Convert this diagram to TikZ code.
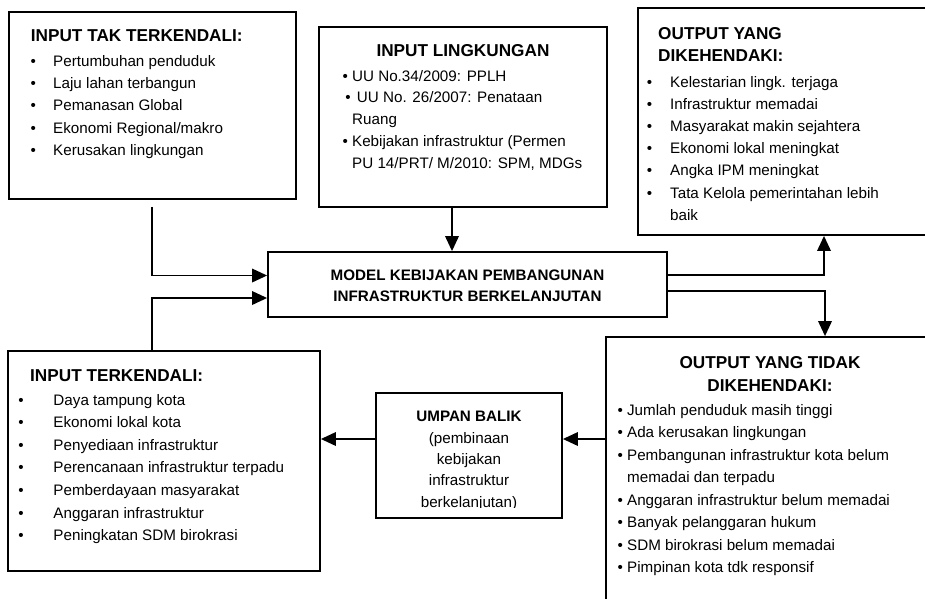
\documentclass[tikz,border=0pt]{standalone}
\usepackage{fontspec}
\setmainfont{Liberation Sans}
\usetikzlibrary{arrows.meta,fit}
\newcommand\tabbul[1]{\makebox[#1][l]{•}}
\begin{document}
\begin{tikzpicture}[x=1pt,y=-1pt,
  box/.style={draw,line width=1.8pt,inner sep=0pt},
  hd/.style={font=\fontsize{17.2}{20}\selectfont\bfseries,inner sep=0pt,anchor=base west},
  hdc/.style={hd,anchor=base},
  txt/.style={font=\fontsize{15.2}{18}\selectfont,inner sep=0pt,anchor=base west},
  txtc/.style={txt,anchor=base},
  bld/.style={font=\fontsize{15.2}{18}\selectfont\bfseries,inner sep=0pt,anchor=base},
  arr/.style={line width=1.8pt,-{Triangle[length=15pt,width=13.5pt]}},
]
\useasboundingbox (0,0) rectangle (925,598);
\clip (0,0) rectangle (925,598);

% boxes
\node[box,fit={(9,12)(296,199)}] (b1) {};
\node[box,fit={(319,27)(607,207)}] (b2) {};
\node[box,fit={(638,8)(935,235)}] (out1) {};
\node[box,fit={(268,252)(667,317)}] (model) {};
\node[box,fit={(8,351)(320,571)}] (b4) {};
\node[box,fit={(376,393)(562,518)}] (umpan) {};
\node[box,fit={(606,337)(935,612)}] (out2) {};

% input tak terkendali
\node[hd] (b1h) at (30.7,41.5) {INPUT TAK TERKENDALI:};
\foreach \t [count=\n] in {{Pertumbuhan penduduk},{Laju lahan terbangun},{Pemanasan Global},{Ekonomi Regional/makro},{Kerusakan lingkungan}}
  \node[txt] (b1i\n) at (30.4,{66.7+22.1*(\n-1)}) {\tabbul{22.6pt}\t};

% input lingkungan
\node[hdc] (b2h) at (463,56.7) {INPUT LINGKUNGAN};
\node[txt] (b2i1) at (342.4,81) {• UU No.34/2009: PPLH};
\node[txt] (b2i2) at (345.2,102.8) {•\hspace{2pt} UU No. 26/2007: Penataan};
\node[txt] (b2i3) at (352,124.6) {Ruang};
\node[txt] (b2i4) at (342.4,146.4) {• Kebijakan infrastruktur (Permen};
\node[txt] (b2i5) at (352,168.2) {PU 14/PRT/ M/2010: SPM, MDGs};

% output yang dikehendaki
\node[hd] (o1h1) at (658,39.5) {OUTPUT YANG};
\node[hd] (o1h2) at (658,61) {DIKEHENDAKI:};
\foreach \t [count=\n] in {{Kelestarian lingk. terjaga},{Infrastruktur memadai},{Masyarakat makin sejahtera},{Ekonomi lokal meningkat},{Angka IPM meningkat},{Tata Kelola pemerintahan lebih}}
  \node[txt] (o1i\n) at (646.7,{87+22.2*(\n-1)}) {\tabbul{23.3pt}\t};
\node[txt] (o1i7) at (670,220.2) {baik};

% model
\node[bld] (m1) at (467.5,280.7) {MODEL KEBIJAKAN PEMBANGUNAN};
\node[bld] (m2) at (467.5,301.7) {INFRASTRUKTUR BERKELANJUTAN};

% input terkendali
\node[hd] (b4h) at (30,381.5) {INPUT TERKENDALI:};
\foreach \t [count=\n] in {{Daya tampung kota},{Ekonomi lokal kota},{Penyediaan infrastruktur},{Perencanaan infrastruktur terpadu},{Pemberdayaan masyarakat},{Anggaran infrastruktur},{Peningkatan SDM birokrasi}}
  \node[txt] (b4i\n) at (18.1,{405+22.6*(\n-1)}) {\tabbul{35.2pt}\t};

% umpan balik (last line cut at its baseline by the text area)
\begin{scope}
  \clip (376,393) rectangle (562,507.5);
  \node[bld] (u0) at (469,421.7) {UMPAN BALIK};
  \foreach \t [count=\n] in {{(pembinaan},{kebijakan},{infrastruktur},{berkelanjutan)}}
    \node[txtc] (u\n) at (469,{443.3+21.3*(\n-1)}) {\t};
\end{scope}

% output yang tidak dikehendaki
\node[hdc] (o2h1) at (770,368.3) {OUTPUT YANG TIDAK};
\node[hdc] (o2h2) at (770,391.5) {DIKEHENDAKI:};
\node[txt] (o2i1) at (617.4,415) {• Jumlah penduduk masih tinggi};
\node[txt] (o2i2) at (617.4,437.5) {• Ada kerusakan lingkungan};
\node[txt] (o2i3) at (617.4,460) {• Pembangunan infrastruktur kota belum};
\node[txt] (o2i4) at (627,482.5) {memadai dan terpadu};
\node[txt] (o2i5) at (617.4,505) {• Anggaran infrastruktur belum memadai};
\node[txt] (o2i6) at (617.4,527.5) {• Banyak pelanggaran hukum};
\node[txt] (o2i7) at (617.4,550) {• SDM birokrasi belum memadai};
\node[txt] (o2i8) at (617.4,572.5) {• Pimpinan kota tdk responsif};

% connectors
\coordinate (fb) at (0,439);
\draw[arr,shorten <=7pt] ([xshift=-0.5pt]b1.south) |- ([yshift=9pt]model.west);
\draw[arr] ([xshift=-11pt]b2.south) -- ([xshift=-11pt]b2.south |- model.north);
\draw[arr] ([xshift=-12pt]b4.north) |- ([yshift=-13.5pt]model.west);
\draw[arr] ([yshift=9.5pt]model.east) -| ([xshift=37.5pt]out1.south);
\draw[arr] ([yshift=-6.5pt]model.east) -| ([xshift=54.5pt]out2.north);
\draw[arr] (out2.west |- fb) -- (umpan.east |- fb);
\draw[arr] (umpan.west |- fb) -- (b4.east |- fb);
\end{tikzpicture}
\end{document}
